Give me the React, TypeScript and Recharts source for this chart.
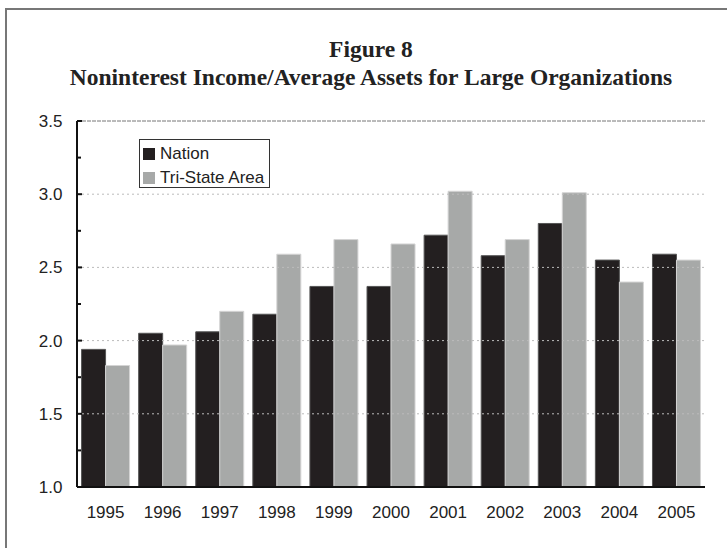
import { Bar, BarChart, ReferenceLine, XAxis, YAxis } from 'recharts'

const years = ['1995', '1996', '1997', '1998', '1999', '2000', '2001', '2002', '2003', '2004', '2005']
const nation = [1.94, 2.05, 2.06, 2.18, 2.37, 2.37, 2.72, 2.58, 2.80, 2.55, 2.59]
const triState = [1.83, 1.97, 2.20, 2.59, 2.69, 2.66, 3.02, 2.69, 3.01, 2.40, 2.55]
const yTicks = [1, 1.25, 1.5, 1.75, 2, 2.25, 2.5, 2.75, 3, 3.25, 3.5]
const gridValues = [1.5, 2, 2.5, 3]

const data = years.map((year, i) => ({ year, nation: nation[i], triState: triState[i] }))

const NATION = '#231f20'
const TRI = '#a7a9a8'
const sans = '"Liberation Sans", Arial, sans-serif'
const Y_TICK_MARGIN = 14.5

function YTick({ x, y, payload }: any) {
  const axisX = x + Y_TICK_MARGIN
  const major = Math.abs(payload.value * 2 - Math.round(payload.value * 2)) < 1e-6
  return (
    <g>
      <line x1={axisX} x2={axisX + (major ? 5 : 4)} y1={y} y2={y} stroke="#111" strokeWidth={2} />
      {major && (
        <text x={x} y={y} dy={6} textAnchor="end" fontSize={17} fill="#222" fontFamily={sans}>
          {payload.value.toFixed(1)}
        </text>
      )}
    </g>
  )
}

function LegendBox() {
  const items = [
    { label: 'Nation', color: NATION },
    { label: 'Tri-State Area', color: TRI },
  ]
  return (
    <div style={{ position: 'absolute', left: 139, top: 139, boxSizing: 'border-box', width: 131, height: 49, border: '1px solid #333', background: '#fff', padding: '2px 0 0 3px', fontFamily: sans, fontSize: 17, color: '#222' }}>
      {items.map(it => (
        <div key={it.label} style={{ display: 'flex', alignItems: 'center', height: 24, whiteSpace: 'nowrap' }}>
          <span style={{ width: 12, height: 12, background: it.color, marginRight: 5, flex: 'none' }} />
          {it.label}
        </div>
      ))}
    </div>
  )
}

export default function App() {
  return (
    <div style={{ position: 'absolute', left: 0, top: 0, width: 727, height: 548, overflow: 'hidden', background: '#fff' }}>
      <div style={{ position: 'absolute', left: 5, top: 8, width: 760, height: 600, borderTop: '2px solid #777', borderLeft: '2px solid #777' }} />
      <div style={{ position: 'absolute', left: 0, width: 742, top: 35, textAlign: 'center', fontFamily: '"Liberation Serif", serif', fontWeight: 'bold', fontSize: 23.5, color: '#222', lineHeight: '28px' }}>
        <div>Figure 8</div>
        <div>Noninterest Income/Average Assets for Large Organizations</div>
      </div>
      <div style={{ position: 'absolute', left: 0, top: 0 }}>
        <BarChart width={727} height={548} data={data} margin={{ top: 121, right: 22, bottom: 31, left: 0 }} barCategoryGap="8%" barGap={0}>
          <ReferenceLine y={3.5} yAxisId="left" stroke="#777" strokeDasharray="4 1" />
          {gridValues.map(v => (
            <ReferenceLine key={v} y={v} yAxisId="left" stroke="#bbb" strokeDasharray="2 3" />
          ))}
          <XAxis dataKey="year" height={30} axisLine={{ stroke: '#111', strokeWidth: 2 }} tickLine={false} tickMargin={13} tick={{ fontSize: 17, fill: '#222', fontFamily: sans }} />
          <YAxis yAxisId="left" domain={[1, 3.5]} ticks={yTicks} width={77} axisLine={{ stroke: '#111', strokeWidth: 2 }} tickLine={false} tickSize={0} tickMargin={Y_TICK_MARGIN} tick={<YTick />} interval={0} />
          <YAxis yAxisId="right" orientation="right" domain={[1, 3.5]} width={0} tick={false} tickLine={false} axisLine={{ stroke: '#888', strokeWidth: 2 }} />
          <Bar yAxisId="left" dataKey="nation" name="Nation" fill={NATION} stroke="#555" strokeWidth={1} isAnimationActive={false} />
          <Bar yAxisId="left" dataKey="triState" name="Tri-State Area" fill={TRI} stroke="#d4d4d4" strokeWidth={1} isAnimationActive={false} />
        </BarChart>
      </div>
      <LegendBox />
    </div>
  )
}
